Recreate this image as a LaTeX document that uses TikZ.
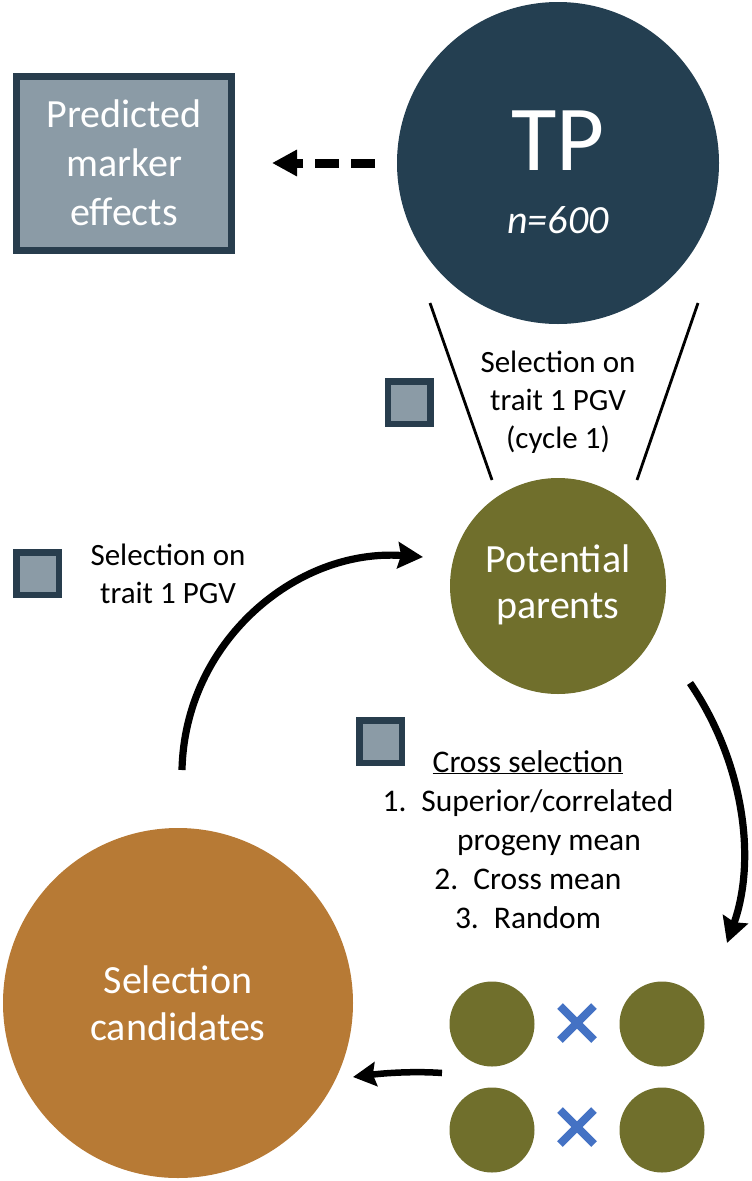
\documentclass[tikz,border=0pt]{standalone}
\usepackage{fontspec}
\setmainfont{Carlito}
\usetikzlibrary{arrows.meta}
\definecolor{tpblue}{RGB}{36,63,81}
\definecolor{boxedge}{RGB}{40,61,77}
\definecolor{boxfill}{RGB}{139,155,166}
\definecolor{olive}{RGB}{112,111,44}
\definecolor{brownc}{RGB}{183,122,53}
\definecolor{crossblue}{RGB}{68,114,196}
\newcommand\myfs[2]{\fontsize{#1}{#2}\selectfont}
\begin{document}
\begin{tikzpicture}[x=1pt,y=-1pt,
  bigcirc/.style={circle, inner sep=0pt, draw=none},
  smallcirc/.style={circle, inner sep=0pt, fill=olive, minimum size=85pt},
  marker/.style={draw=boxedge, fill=boxfill, line width=6.5pt, minimum size=42.5pt, inner sep=0pt},
  wtext/.style={text=white, inner sep=0pt, anchor=base},
  btext/.style={text=black, inner sep=0pt, anchor=base},
  flow/.style={line width=7.2pt, -{Stealth[length=25pt,width=26pt,inset=3pt]}},
  funnel/.style={line width=2.8pt},
  xmark/.style={draw=crossblue, line width=8pt},
]
\useasboundingbox (0,0) rectangle (752,1181);

% big circles
\node[bigcirc, fill=tpblue, minimum size=322pt] (tp) at (558,163) {};
\node[bigcirc, fill=olive, minimum size=216pt] (pp) at (558,586) {};
\node[bigcirc, fill=brownc, minimum size=350pt] (sc) at (178,1003) {};

% predicted marker effects box
\node[draw=boxedge, fill=boxfill, line width=7pt, minimum width=215pt, minimum height=174pt, inner sep=0pt] (pme) at (124,163.5) {};
\node[wtext] (pmetext) at (124,127) {\myfs{40}{49}\begin{tabular}[t]{@{}c@{}}Predicted\\marker\\effects\end{tabular}};

% TP text
\node[wtext] (tptext) at (558,170) {\myfs{93}{100}TP};
\node[wtext] (ntext) at (558,233) {\myfs{40}{48}\itshape n=600};

% potential parents text
\node[wtext] (pptext) at (558,572) {\myfs{40}{46}\begin{tabular}[t]{@{}c@{}}Potential\\parents\end{tabular}};

% selection candidates text
\node[wtext] (sctext) at (178,993) {\myfs{40}{47}\begin{tabular}[t]{@{}c@{}}Selection\\candidates\end{tabular}};

% dashed arrow
\coordinate (dtail) at (375,163);
\coordinate (dhead) at (272,163);
\draw[line width=9pt, dash pattern=on 24pt off 12pt, -{Triangle[length=25pt,width=25pt]}] (dtail) -- (dhead);

% funnel lines
\coordinate (fl1) at (430,303); \coordinate (fl2) at (492,480);
\coordinate (fr1) at (698,303); \coordinate (fr2) at (637,480);
\draw[funnel] (fl1) -- (fl2);
\draw[funnel] (fr1) -- (fr2);

% funnel text
\node[btext] (seltext1) at (558,372) {\myfs{31}{38}\begin{tabular}[t]{@{}c@{}}Selection on\\trait 1 PGV\\(cycle 1)\end{tabular}};

% markers
\node[marker] (m1) at (409,402.5) {};
\node[marker] (m2) at (37.5,573.5) {};
\node[marker] (m3) at (380.5,741.5) {};

% left label
\node[btext] (seltext2) at (168,565) {\myfs{31}{38}\begin{tabular}[t]{@{}c@{}}Selection on\\trait 1 PGV\end{tabular}};

% cross selection text
\node[btext] (xstext) at (528,772) {\myfs{31.5}{39}\begin{tabular}[t]{@{}c@{}}\underline{Cross selection}\\1.\hspace{15pt}Superior/correlated\\\hspace{42pt}progeny mean\\2.\hspace{15pt}Cross mean\\3.\hspace{15pt}Random\end{tabular}};

% arcs
\coordinate (a1s) at (182,770);
\coordinate (a1e) at (423,557);
\draw[flow] (a1s) .. controls (184.6,642) and (296,548) .. (a1e);
\coordinate (a2s) at (690,683);
\coordinate (a2e) at (727,943);
\draw[flow] (a2s) .. controls (741.8,758.8) and (757.7,856.3) .. (a2e);
\coordinate (a3s) at (442,1073);
\coordinate (a3e) at (353,1077);
\draw[line width=6.5pt, -{Stealth[length=23pt,width=24pt,inset=3pt]}] (a3s) .. controls (415,1071) and (385,1073) .. (a3e);

% small circles
\node[smallcirc] (c1) at (492,1024) {};
\node[smallcirc] (c2) at (662,1024) {};
\node[smallcirc] (c3) at (492,1130) {};
\node[smallcirc] (c4) at (662,1130) {};

% blue crosses
\coordinate (x1) at (577,1023);
\coordinate (x2) at (577,1127);
\draw[xmark] ([shift={(-17,-17)}]x1) -- ([shift={(17,17)}]x1);
\draw[xmark] ([shift={(-17,17)}]x1) -- ([shift={(17,-17)}]x1);
\draw[xmark] ([shift={(-17,-17)}]x2) -- ([shift={(17,17)}]x2);
\draw[xmark] ([shift={(-17,17)}]x2) -- ([shift={(17,-17)}]x2);
\end{tikzpicture}
\end{document}
